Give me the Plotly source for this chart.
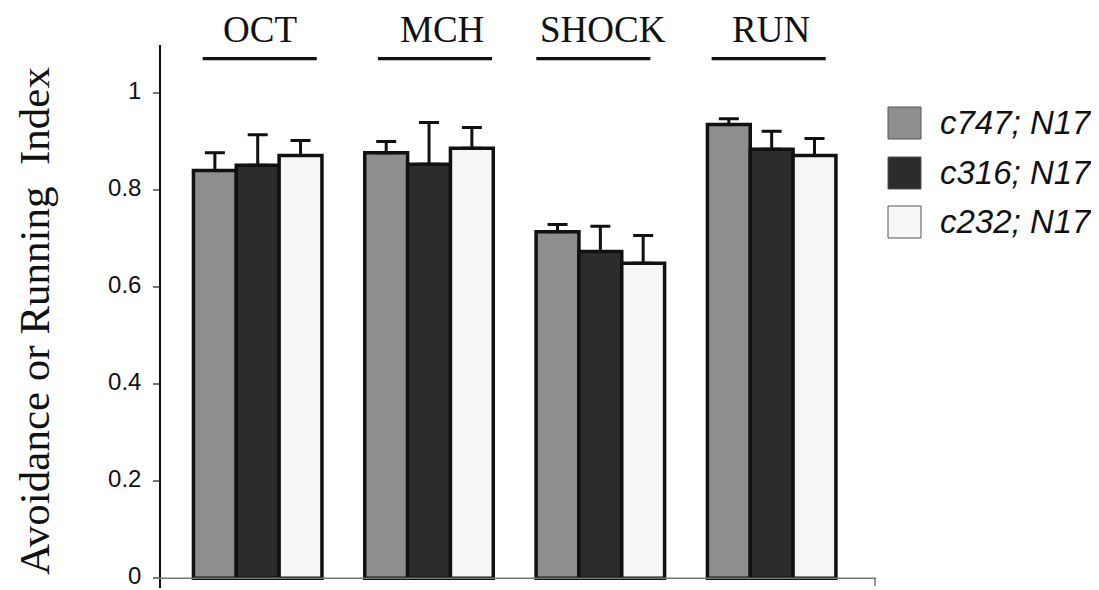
import plotly.graph_objects as go

# ---------------- data ----------------
categories = ["OCT", "MCH", "SHOCK", "RUN"]
series_names = ["c747; N17", "c316; N17", "c232; N17"]
c747_values = [0.841, 0.878, 0.715, 0.936]
c747_errors = [0.037, 0.023, 0.015, 0.012]
c316_values = [0.852, 0.854, 0.674, 0.885]
c316_errors = [0.063, 0.086, 0.052, 0.037]
c232_values = [0.872, 0.887, 0.650, 0.872]
c232_errors = [0.031, 0.043, 0.057, 0.035]
y_ticks = [0, 0.2, 0.4, 0.6, 0.8, 1]
y_ticktext = ["0", "0.2", "0.4", "0.6", "0.8", "1"]
y_title = "Avoidance or Running\u00a0 Index"

# ---------------- style / layout ----------------
fills = ["#8e8e8e", "#2c2c2c", "#f6f6f6"]
PAGE_OFF = 8                     # default body margin of the html page
WIN_W, WIN_H = 1099, 590
W, H = WIN_W - PAGE_OFF, WIN_H - PAGE_OFF
# plot area in window pixels
PX_L, PX_R, PX_T, PX_B = 161, 876, 45, 588
L = PX_L - PAGE_OFF
T = PX_T - PAGE_OFF
R = WIN_W - PX_R
B = WIN_H - PX_B
plot_w = PX_R - PX_L
plot_h = PX_B - PX_T
X_RANGE = [-0.5645, 3.609]
UNIT_PX = plot_w / (X_RANGE[1] - X_RANGE[0])
# small horizontal nudges (pixels) of group labels / underlines
label_nudge_px = [2, 13, 3, -1]
line_nudge_px = [2, 6, -7, -3]

values = [c747_values, c316_values, c232_values]
errors = [c747_errors, c316_errors, c232_errors]


def px_x(px):
    return (px - PX_L) / plot_w


def px_y(py):
    return (PX_B - py) / plot_h


fig = go.Figure()
for name, vals, errs, col in zip(series_names, values, errors, fills):
    fig.add_trace(go.Bar(
        x=categories, y=vals, name=name,
        marker=dict(color=col, line=dict(color="#111111", width=3.5)),
        error_y=dict(type="data", symmetric=False, array=errs,
                     arrayminus=[0] * len(errs),
                     color="#111111", thickness=3, width=10),
        showlegend=False,
    ))

shapes = []
annotations = []

# group labels with underlines
for i, cat in enumerate(categories):
    lx = i + label_nudge_px[i] / UNIT_PX
    ux = i + line_nudge_px[i] / UNIT_PX
    annotations.append(dict(
        x=lx, y=px_y(29), xref="x", yref="paper", text=cat, showarrow=False,
        font=dict(family="Liberation Serif, Times New Roman, serif", size=37, color="#111111"),
        xanchor="center", yanchor="middle"))
    shapes.append(dict(type="line", xref="x", yref="y",
                       x0=ux - 0.333, x1=ux + 0.333, y0=1.072, y1=1.072,
                       line=dict(color="#111111", width=3.2)))

# x axis line at zero (extends slightly left) and right-end tick
shapes.append(dict(type="line", xref="paper", yref="y", x0=px_x(155), x1=1.0,
                   y0=0, y1=0, line=dict(color="#777777", width=1.5)))
shapes.append(dict(type="line", xref="paper", yref="paper", x0=px_x(875), x1=px_x(875),
                   y0=px_y(578), y1=px_y(586), line=dict(color="#555555", width=1.2)))

# manual legend
row_centers = [123, 173, 222]
for name, col, rc in zip(series_names, fills, row_centers):
    shapes.append(dict(type="rect", xref="paper", yref="paper",
                       x0=px_x(888), x1=px_x(921), y0=px_y(rc + 16), y1=px_y(rc - 16),
                       fillcolor=col, line=dict(color="#555555", width=1)))
    annotations.append(dict(
        x=px_x(938), y=px_y(rc), xref="paper", yref="paper", text="<i>%s</i>" % name,
        showarrow=False, xanchor="left", yanchor="middle",
        font=dict(family="Liberation Sans, Arial, sans-serif", size=33, color="#111111")))

# y axis title
annotations.append(dict(
    x=px_x(34), y=px_y(321), xref="paper", yref="paper", text=y_title,
    showarrow=False, textangle=-90, xanchor="center", yanchor="middle",
    font=dict(family="Liberation Serif, Times New Roman, serif", size=43, color="#111111")))

fig.update_layout(
    width=W, height=H,
    margin=dict(l=L, r=R, t=T, b=B, autoexpand=False),
    paper_bgcolor="white", plot_bgcolor="white",
    barmode="group", bargap=0.25, bargroupgap=0,
    shapes=shapes, annotations=annotations,
    xaxis=dict(range=X_RANGE, showticklabels=False, showgrid=False,
               zeroline=False, showline=False, ticks="", automargin=False),
    yaxis=dict(range=[-0.02, 1.1], tickvals=y_ticks, ticktext=y_ticktext,
               showgrid=False, zeroline=False, showline=True, linecolor="#111111",
               linewidth=1.5, ticks="outside", ticklen=6, tickcolor="#777777",
               tickwidth=1.5, ticklabelstandoff=7, ticklabelshift=-3, automargin=False,
               ticklabeloverflow="allow",
               tickfont=dict(family="Liberation Sans, Arial, sans-serif", size=24, color="#111111")),
)

fig.write_html("out.html")
